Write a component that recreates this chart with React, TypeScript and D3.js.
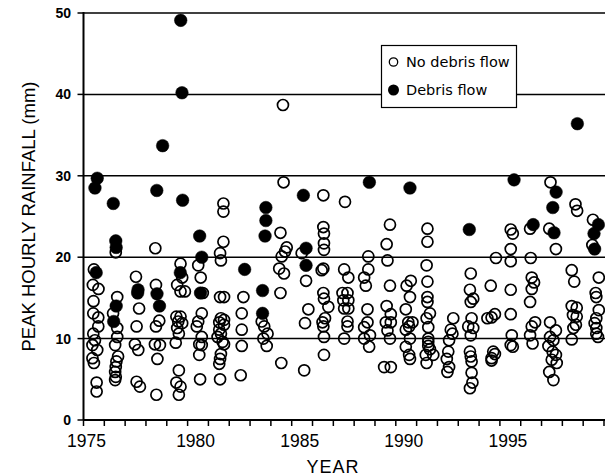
import React from "react";
import * as d3 from "d3";

// No debris flow events: [year, peak hourly rainfall mm]
const noDebris: [number, number][] = [
  [1975.50, 18.5], [1975.45, 16.6], [1975.72, 16.1], [1975.48, 14.6], [1975.47, 13.1], [1975.71, 12.6],
  [1975.71, 11.5], [1975.47, 10.6], [1975.55, 9.8], [1975.43, 9.2], [1975.66, 8.6], [1975.43, 7.6],
  [1975.50, 7.0], [1975.63, 4.6], [1975.63, 3.5],
  [1976.55, 20.6], [1976.62, 15.1], [1976.42, 13.1], [1976.62, 11.3], [1976.62, 10.2], [1976.52, 9.2],
  [1976.66, 7.8], [1976.58, 7.2], [1976.55, 6.5], [1976.52, 5.9], [1976.55, 5.3], [1976.52, 4.9],
  [1977.52, 17.6], [1977.67, 13.7], [1977.55, 11.5], [1977.47, 9.3], [1977.63, 8.6], [1977.55, 4.7], [1977.71, 4.1],
  [1978.45, 21.1], [1978.48, 16.6], [1978.64, 12.2], [1978.48, 11.5], [1978.43, 9.3], [1978.67, 9.2],
  [1978.55, 7.5], [1978.50, 3.1],
  [1979.66, 19.2], [1979.74, 17.5], [1979.50, 16.6], [1979.66, 15.8], [1979.87, 15.8], [1979.46, 12.7],
  [1979.66, 12.7], [1979.55, 12.1], [1979.74, 11.9], [1979.50, 11.3], [1979.58, 10.6], [1979.43, 9.5],
  [1979.58, 6.1], [1979.46, 4.6], [1979.66, 4.1], [1979.58, 3.1],
  [1980.51, 19.0], [1980.63, 17.5], [1980.73, 15.6], [1980.68, 13.1], [1980.51, 12.1], [1980.44, 11.5],
  [1980.68, 10.2], [1980.56, 9.3], [1980.68, 9.2], [1980.56, 8.0], [1980.60, 5.0],
  [1981.72, 26.6], [1981.72, 25.6], [1981.72, 21.9], [1981.56, 20.5], [1981.60, 19.6], [1981.56, 15.1],
  [1981.75, 15.1], [1981.60, 12.5], [1981.75, 12.3], [1981.52, 12.0], [1981.75, 11.7], [1981.52, 11.1],
  [1981.60, 10.6], [1981.44, 10.2], [1981.68, 9.6], [1981.75, 9.3], [1981.60, 8.1], [1981.56, 7.5],
  [1981.52, 6.9], [1981.56, 5.0],
  [1982.68, 15.1], [1982.60, 13.1], [1982.60, 11.1], [1982.60, 9.1], [1982.55, 5.5],
  [1983.56, 12.1], [1983.68, 11.5], [1983.84, 10.6], [1983.64, 10.0], [1983.80, 9.1],
  [1984.58, 38.7], [1984.61, 29.2], [1984.46, 23.0], [1984.76, 21.2], [1984.68, 20.7], [1984.52, 20.1],
  [1984.40, 18.6], [1984.63, 18.0], [1984.46, 15.6], [1984.50, 7.0],
  [1985.48, 20.5], [1985.69, 17.1], [1985.80, 13.6], [1985.64, 11.9], [1985.60, 6.1],
  [1986.52, 27.6], [1986.52, 23.7], [1986.55, 22.9], [1986.55, 21.7], [1986.55, 20.9], [1986.52, 18.6],
  [1986.44, 18.4], [1986.52, 15.6], [1986.55, 14.9], [1986.76, 13.9], [1986.60, 12.5], [1986.48, 12.0],
  [1986.52, 11.5], [1986.55, 10.2], [1986.55, 8.0],
  [1987.56, 26.8], [1987.52, 18.5], [1987.72, 17.5], [1987.44, 15.6], [1987.68, 15.6], [1987.48, 14.7],
  [1987.72, 14.7], [1987.52, 13.7], [1987.72, 13.7], [1987.68, 12.1], [1987.68, 11.5], [1987.52, 10.0],
  [1988.68, 20.1], [1988.68, 18.5], [1988.48, 17.5], [1988.56, 16.5], [1988.64, 13.6], [1988.64, 12.0],
  [1988.48, 11.4], [1988.76, 10.4], [1988.48, 10.0], [1988.72, 9.0],
  [1989.72, 24.0], [1989.56, 21.6], [1989.60, 19.6], [1989.72, 16.5], [1989.56, 14.0], [1989.76, 13.0],
  [1989.52, 12.0], [1989.76, 12.0], [1989.60, 11.0], [1989.72, 10.0], [1989.44, 6.5], [1989.76, 6.5],
  [1990.72, 17.1], [1990.52, 16.5], [1990.68, 15.1], [1990.48, 13.6], [1990.60, 12.0], [1990.80, 12.0],
  [1990.64, 11.5], [1990.48, 11.1], [1990.68, 10.0], [1990.48, 9.0], [1990.64, 8.0], [1990.68, 7.5],
  [1991.52, 23.5], [1991.52, 21.9], [1991.48, 19.0], [1991.52, 17.0], [1991.52, 15.1], [1991.52, 14.5],
  [1991.64, 13.1], [1991.48, 12.5], [1991.56, 11.4], [1991.56, 10.0], [1991.56, 9.6], [1991.56, 9.1],
  [1991.64, 8.7], [1991.44, 8.0], [1991.80, 8.0], [1991.48, 7.0],
  [1992.76, 12.5], [1992.64, 11.1], [1992.72, 10.6], [1992.56, 9.8], [1992.52, 8.4], [1992.45, 7.5],
  [1992.56, 6.5], [1992.48, 5.9],
  [1993.60, 18.0], [1993.56, 16.0], [1993.72, 14.9], [1993.60, 14.5], [1993.64, 12.5], [1993.48, 11.5],
  [1993.72, 11.3], [1993.60, 10.4], [1993.56, 8.4], [1993.60, 7.8], [1993.64, 7.2], [1993.64, 5.8],
  [1993.68, 4.6], [1993.56, 3.9],
  [1994.81, 19.9], [1994.56, 16.5], [1994.76, 13.0], [1994.40, 12.5], [1994.60, 12.6], [1994.68, 8.4],
  [1994.76, 8.1], [1994.60, 7.6], [1994.60, 7.3],
  [1995.52, 23.4], [1995.62, 22.9], [1995.52, 21.0], [1995.52, 19.5], [1995.52, 16.0], [1995.52, 13.0],
  [1995.57, 10.4], [1995.52, 9.2], [1995.62, 9.0],
  [1996.45, 23.5], [1996.48, 19.9], [1996.53, 17.5], [1996.64, 16.9], [1996.53, 16.1], [1996.45, 14.5],
  [1996.69, 12.0], [1996.53, 11.5], [1996.45, 10.4], [1996.57, 9.4],
  [1997.43, 29.2], [1997.37, 23.5], [1997.69, 21.0], [1997.41, 12.0], [1997.69, 11.0], [1997.41, 10.2],
  [1997.57, 9.8], [1997.33, 9.1], [1997.53, 8.4], [1997.69, 8.0], [1997.49, 7.4], [1997.73, 7.0],
  [1997.37, 5.9], [1997.57, 4.9],
  [1998.63, 26.5], [1998.71, 25.7], [1998.45, 18.4], [1998.57, 17.0], [1998.45, 14.0], [1998.69, 13.8],
  [1998.51, 12.9], [1998.69, 12.7], [1998.65, 11.7], [1998.53, 11.3], [1998.45, 9.9],
  [1999.47, 24.6], [1999.44, 21.5], [1999.75, 17.5], [1999.60, 15.6], [1999.63, 15.1], [1999.75, 13.5],
  [1999.63, 12.5], [1999.55, 11.9], [1999.63, 11.3], [1999.63, 10.6], [1999.71, 10.2],
];

// Debris flow events
const debris: [number, number][] = [
  [1975.66, 29.7], [1975.55, 28.5], [1975.61, 18.1],
  [1976.43, 26.6], [1976.55, 22.0], [1976.57, 21.2], [1976.57, 14.0], [1976.45, 12.1],
  [1977.62, 16.0], [1977.60, 15.6],
  [1978.52, 28.2], [1978.80, 33.7], [1978.53, 15.5], [1978.65, 14.0],
  [1979.67, 49.1], [1979.73, 40.2], [1979.76, 27.0], [1979.65, 18.1],
  [1980.58, 22.6], [1980.68, 20.0], [1980.62, 15.6],
  [1982.74, 18.5],
  [1983.76, 26.1], [1983.76, 24.5], [1983.72, 22.6], [1983.60, 15.9], [1983.60, 13.1],
  [1985.56, 27.6], [1985.69, 21.1], [1985.69, 19.0],
  [1988.73, 29.2],
  [1990.68, 28.5],
  [1993.53, 23.4],
  [1995.68, 29.5],
  [1996.60, 24.0],
  [1997.70, 28.0], [1997.54, 26.1], [1997.60, 23.0],
  [1998.72, 36.4],
  [1999.73, 24.0], [1999.52, 22.9], [1999.55, 21.0],
];

const yTicks = [0, 10, 20, 30, 40, 50];
const gridLines = [10, 20, 30, 40, 50];
const xLabels = [1975, 1980, 1985, 1990, 1995];
const xMinorTicks = d3.range(1975, 2001, 1);

export default function App() {
  const W = 605;
  const H = 476;
  const x = d3.scaleLinear().domain([1975, 2000]).range([83.5, 604]);
  const y = d3.scaleLinear().domain([0, 50]).range([420, 13]);
  const font = "'Liberation Sans', Arial, Helvetica, sans-serif";

  return (
    <svg width={W} height={H} style={{ position: "absolute", left: 0, top: 0, background: "#fff" }}>
      <rect x={0} y={0} width={W} height={H} fill="#fff" />
      {gridLines.map((v) => (
        <line key={"g" + v} x1={x(1975)} x2={W} y1={y(v)} y2={y(v)} stroke="#000" strokeWidth={1.5} />
      ))}
      {/* axes */}
      <line x1={x(1975)} x2={x(1975)} y1={y(50) - 1} y2={y(0)} stroke="#000" strokeWidth={2} />
      <line x1={x(1975)} x2={W} y1={y(0)} y2={y(0)} stroke="#000" strokeWidth={2} />
      {yTicks.map((v) => (
        <g key={"yt" + v}>
          <line x1={x(1975) - 6} x2={x(1975)} y1={y(v)} y2={y(v)} stroke="#000" strokeWidth={1.5} />
          <text x={71} y={y(v)} dy="0.36em" textAnchor="end" fontFamily={font} fontWeight="bold" fontSize={14}>
            {v}
          </text>
        </g>
      ))}
      {xMinorTicks.map((v) => (
        <line key={"xt" + v} x1={x(v)} x2={x(v)} y1={y(0)} y2={y(0) + 6} stroke="#000" strokeWidth={1.5} />
      ))}
      {xLabels.map((v, i) => (
        <text key={"xl" + v} x={x(v) + (i === 0 ? 3 : 8)} y={447} textAnchor="middle" fontFamily={font} fontSize={17.5}>
          {v}
        </text>
      ))}
      <text x={333} y={473} textAnchor="middle" fontFamily={font} fontSize={18} letterSpacing={1}>
        YEAR
      </text>
      <text
        transform={`translate(35, ${(y(0) + y(50)) / 2}) rotate(-90)`}
        textAnchor="middle"
        fontFamily={font}
        fontSize={18.5}
      >
        PEAK HOURLY RAINFALL (mm)
      </text>
      {/* points */}
      {noDebris.map((d, i) => (
        <circle key={"o" + i} cx={x(d[0])} cy={y(d[1])} r={5.5} fill="none" stroke="#000" strokeWidth={1.7} />
      ))}
      {debris.map((d, i) => (
        <circle key={"f" + i} cx={x(d[0])} cy={y(d[1])} r={6.3} fill="#000" stroke="#000" strokeWidth={0.5} />
      ))}
      {/* legend */}
      <rect x={381.5} y={45.5} width={135} height={62} fill="#fff" stroke="#000" strokeWidth={1.2} />
      <circle cx={393.5} cy={62} r={4.2} fill="none" stroke="#000" strokeWidth={1.3} />
      <text x={406} y={67} fontFamily="'DejaVu Sans', sans-serif" fontSize={14.5}>
        No debris flow
      </text>
      <circle cx={393.5} cy={90} r={5.5} fill="#000" />
      <text x={406} y={95} fontFamily="'DejaVu Sans', sans-serif" fontSize={14.5}>
        Debris flow
      </text>
    </svg>
  );
}
